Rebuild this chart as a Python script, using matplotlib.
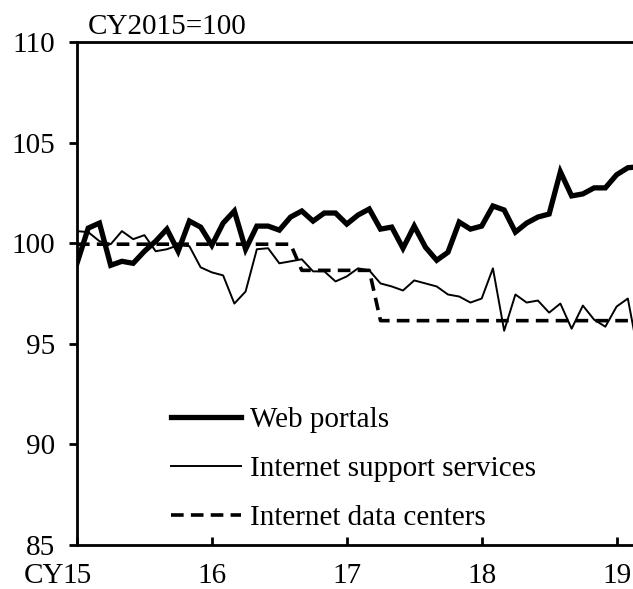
import numpy as np
import matplotlib
matplotlib.use('Agg')
import matplotlib.pyplot as plt

plt.rcParams['font.family'] = ['Liberation Serif', 'DejaVu Serif']

# monthly index values, Jan 2015 onwards (CY2015=100)
web_portals = [99.0, 100.75, 101.0, 98.9, 99.1, 99.0, 99.6, 100.1, 100.7, 99.6,
               101.1, 100.8, 99.9, 101.0, 101.6, 99.7, 100.85, 100.85, 100.65, 101.3,
               101.6, 101.1, 101.5, 101.5, 100.95, 101.4, 101.7, 100.7, 100.8, 99.75,
               100.85, 99.8, 99.15, 99.55, 101.05, 100.7, 100.85, 101.85, 101.65, 100.55,
               101.0, 101.3, 101.45, 103.55, 102.35, 102.45, 102.75, 102.75, 103.4, 103.75,
               103.8]
support_services = [100.6, 100.55, 100.1, 99.95, 100.6, 100.2, 100.4, 99.6, 99.7, 99.9,
                    99.85, 98.8, 98.55, 98.4, 97.0, 97.6, 99.7, 99.75, 99.0, 99.1,
                    99.2, 98.6, 98.6, 98.1, 98.35, 98.75, 98.65, 98.0, 97.85, 97.65,
                    98.15, 98.0, 97.85, 97.45, 97.35, 97.05, 97.25, 98.75, 95.65, 97.45,
                    97.05, 97.15, 96.55, 97.0, 95.75, 96.9, 96.2, 95.85, 96.85, 97.25,
                    94.3]
data_centers = [99.95, 99.95, 99.95, 99.95, 99.95, 99.95, 99.95, 99.95, 99.95, 99.95,
                99.95, 99.95, 99.95, 99.95, 99.95, 99.95, 99.95, 99.95, 99.95, 99.95,
                98.65, 98.65, 98.65, 98.65, 98.65, 98.65, 98.65, 96.15, 96.15, 96.15,
                96.15, 96.15, 96.15, 96.15, 96.15, 96.15, 96.15, 96.15, 96.15, 96.15,
                96.15, 96.15, 96.15, 96.15, 96.15, 96.15, 96.15, 96.15, 96.15, 96.15,
                96.15]
year_labels = ['15', '16', '17', '18', '19']

months = np.arange(len(web_portals))
fs = 21

fig = plt.figure(figsize=(6.33, 5.89), dpi=100)
ax = fig.add_axes([0.1216, 0.0747, 0.8784, 0.854])

ax.plot(months, web_portals, color='black', lw=3.8, label='Web portals', solid_joinstyle='miter')
ax.plot(months, support_services, color='black', lw=1.4, label='Internet support services')
ax.plot(months, data_centers, color='black', lw=2.6, dashes=(3.5, 2),
        label='Internet data centers')

ax.set_xlim(0, 49.46)
ax.set_ylim(85, 110)
ax.set_yticks(np.arange(85, 111, 5))
ax.set_xticks(np.arange(0, 49, 12))
ax.set_xticklabels(year_labels)

for side in ['left', 'bottom', 'top']:
    ax.spines[side].set_linewidth(2)
ax.spines['right'].set_visible(False)

ax.tick_params(axis='y', direction='out', length=6, width=2, labelsize=fs, pad=10)
ax.tick_params(axis='x', direction='in', length=6, width=2, labelsize=fs, pad=13)

ax.annotate('CY', xy=(0, 0), xycoords=('data', 'axes fraction'),
            xytext=(-9, -13), textcoords='offset points',
            ha='right', va='top', fontsize=fs)
ax.text(0.02, 1.003, 'CY2015=100', transform=ax.transAxes,
        ha='left', va='bottom', fontsize=fs)

ax.legend(loc='upper left', bbox_to_anchor=(0.17, 0.275), frameon=False,
          fontsize=fs, handlelength=2.4, handletextpad=0.3, labelspacing=0.78,
          borderpad=0, borderaxespad=0)

fig.savefig('out.png', dpi=100)
